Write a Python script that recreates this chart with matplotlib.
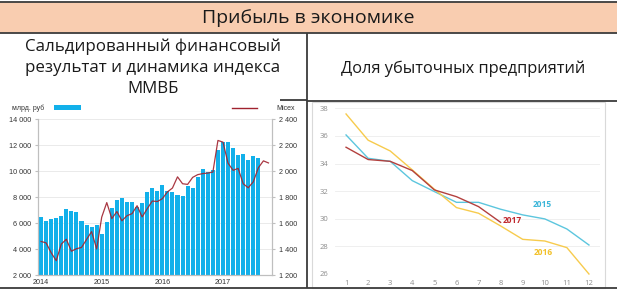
import numpy as np
import matplotlib.pyplot as plt
from matplotlib.patches import Rectangle

plt.rcParams['font.family'] = ['Open Sans', 'DejaVu Sans']

W, H = 617, 292

# left chart: monthly profit (bars, bn rub) and Micex index (line)
profit = [6450, 6140, 6270, 6420, 6520, 7060, 6960, 6830, 6140, 5830, 5730, 5880,
          5190, 6110, 7140, 7780, 7910, 7580, 7580, 7220, 7550, 8400, 8680, 8430,
          8950, 8450, 8400, 8180, 8040, 8850, 8710, 9540, 10150, 9900, 10100, 11590,
          12240, 12240, 11790, 11250, 11320, 10870, 11170, 11000]
micex = [1458, 1447, 1371, 1310, 1438, 1475, 1383, 1402, 1412, 1473, 1534, 1400,
         1645, 1757, 1634, 1688, 1617, 1656, 1672, 1733, 1647, 1709, 1769, 1765,
         1787, 1839, 1869, 1955, 1902, 1897, 1951, 1972, 1980, 1984, 1992, 2235,
         2222, 2060, 2005, 2020, 1902, 1871, 1917, 2025, 2078, 2062]
year_labels = ['2014', '2015', '2016', '2017']

# right chart: share of loss-making companies by month
months = list(range(1, 13))
share_2015 = [36.07, 34.38, 34.16, 32.76, 31.97, 31.19, 31.19, 30.69, 30.28, 29.99, 29.26, 28.10]
share_2016 = [37.59, 35.69, 34.91, 33.54, 32.14, 30.81, 30.40, 29.48, 28.51, 28.39, 27.91, 26.0]
share_2017 = [35.18, 34.29, 34.16, 33.49, 32.09, 31.60, 30.88, 29.74]


def px(x0, y0, x1, y1):
    return [x0 / W, 1 - y1 / H, (x1 - x0) / W, (y1 - y0) / H]


def spaced(v):
    return f"{v:,}".replace(",", " ")


fig = plt.figure(figsize=(W / 100, H / 100), dpi=100)

# frame / table layout
ov = fig.add_axes([0, 0, 1, 1])
ov.set_xlim(0, W)
ov.set_ylim(H, 0)
ov.axis('off')
ov.add_patch(Rectangle((0, 2), W, 31, fc='#F9CDB0', ec='none'))
ov.add_patch(Rectangle((312, 102), 293, 186, fc='white', ec='#d9d9d9', lw=0.8))
frame = '#3c3c3c'
for xs, ys in [([0, W], [2, 2]), ([0, W], [33, 33]), ([307, 307], [33, 288]),
               ([307, W], [101, 101]), ([280, 307], [100, 100]), ([0, W], [288, 288])]:
    ov.plot(xs, ys, color=frame, lw=1.3, solid_capstyle='butt')

ov.text(308, 18, 'Прибыль в экономике', ha='center', va='center', fontsize=14, color='#1a1a1a')
for yy, line in zip([47, 68, 89], ['Сальдированный финансовый', 'результат и динамика индекса', 'ММВБ']):
    ov.text(153, yy, line, ha='center', va='center', fontsize=12.2, color='#1a1a1a')
ov.text(463, 69, 'Доля убыточных предприятий', ha='center', va='center', fontsize=11.8, color='#1a1a1a')

# left chart legend
small = ['Liberation Sans', 'DejaVu Sans']
ov.text(12, 108, 'млрд. руб', ha='left', va='center', fontsize=5, family=small, color='#333333')
ov.add_patch(Rectangle((54, 105), 27, 5, fc='#12B0EA', ec='none'))
ov.plot([232, 257], [108, 108], color='#A0222E', lw=1.0)
ov.text(276, 108, 'Micex', ha='left', va='center', fontsize=5, family=small, color='#333333')

# left chart
ax1 = fig.add_axes(px(38.3, 119, 272, 275))
ax1.bar(range(len(profit)), profit, width=0.8, color='#12B0EA', zorder=2)
ax1.set_xlim(-0.55, 45.7)
ax1.set_ylim(2000, 14000)
yt = list(range(2000, 14001, 2000))
ax1.set_yticks(yt)
ax1.set_yticklabels([spaced(v) for v in yt], family=small)
ax1.set_xticks([0, 12, 24, 36])
ax1.set_xticklabels(year_labels, family=small)
ax1.yaxis.grid(True, color='#e6e6e6', lw=0.6)
ax1.set_axisbelow(True)
ax1.spines['top'].set_visible(False)
for s in ['left', 'right', 'bottom']:
    ax1.spines[s].set_color('#bfbfbf')
    ax1.spines[s].set_linewidth(0.8)
ax1.tick_params(axis='y', labelsize=5.2, colors='#333333', length=2, pad=3, color='#bfbfbf')
ax1.tick_params(axis='x', labelsize=5.2, colors='#333333', length=0, pad=3)

ax2 = ax1.twinx()
ax2.plot(range(len(micex)), micex, color='#A0222E', lw=0.9, alpha=0.9, zorder=3)
ax2.set_ylim(1200, 2400)
yt2 = list(range(1200, 2401, 200))
ax2.set_yticks(yt2)
ax2.set_yticklabels([spaced(v) for v in yt2], family=small)
ax2.spines['top'].set_visible(False)
for s in ['left', 'right', 'bottom']:
    ax2.spines[s].set_color('#bfbfbf')
    ax2.spines[s].set_linewidth(0.8)
ax2.tick_params(axis='y', labelsize=5.2, colors='#333333', length=2, pad=3, color='#bfbfbf')

# right chart
ax3 = fig.add_axes(px(335, 108.3, 600, 274))
ax3.set_facecolor('none')
ax3.plot(months, share_2015, color='#5CC6DE', lw=1.0, clip_on=False)
ax3.plot(months, share_2016, color='#F7CB4D', lw=1.0, clip_on=False)
ax3.plot(months[:len(share_2017)], share_2017, color='#B3403E', lw=1.0, clip_on=False)
ax3.set_xlim(0.5, 12.5)
ax3.set_ylim(26, 38)
ax3.set_yticks(range(26, 39, 2))
ax3.set_xticks(months)
ax3.yaxis.grid(True, color='#ececec', lw=0.6)
ax3.set_axisbelow(True)
for s in ax3.spines.values():
    s.set_visible(False)
ax3.tick_params(axis='y', labelsize=5.5, colors='#8c8c8c', length=0, pad=5)
ax3.tick_params(axis='x', labelsize=5.5, colors='#8c8c8c', length=0, pad=4)
ax3.text(9.88, 31.0, '2015', color='#3BB5D8', fontweight='bold', fontsize=6, ha='center', va='center')
ax3.text(8.54, 29.84, '2017', color='#C0282D', fontweight='bold', fontsize=6, ha='center', va='center')
ax3.text(9.93, 27.57, '2016', color='#F2C028', fontweight='bold', fontsize=6, ha='center', va='center')

fig.savefig('out.png', dpi=100)
